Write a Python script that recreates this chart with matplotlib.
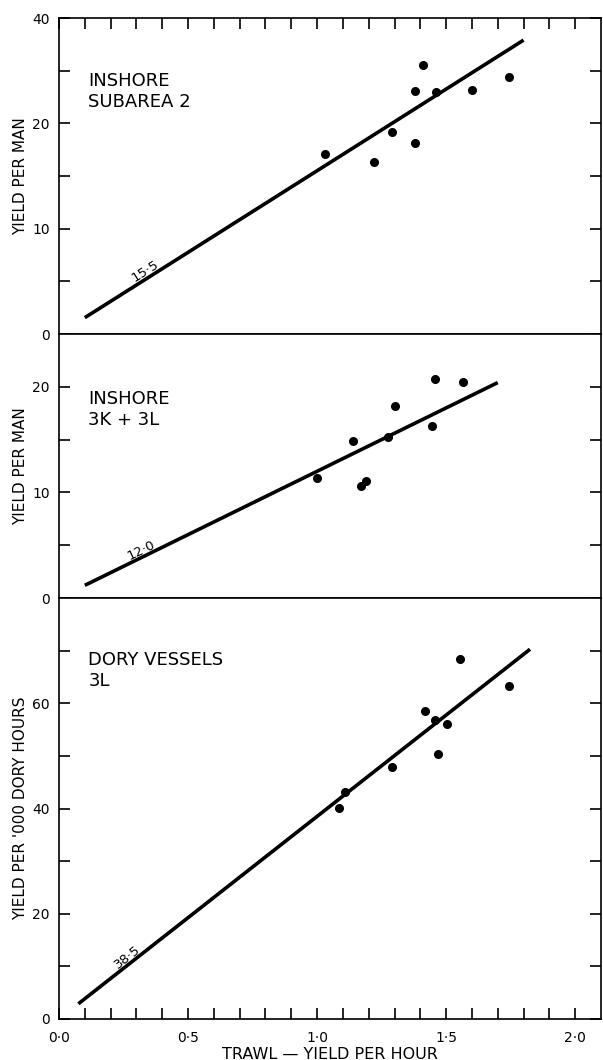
import numpy as np
import matplotlib
matplotlib.use('Agg')
import matplotlib.pyplot as plt
from matplotlib.ticker import FixedLocator

plt.rcParams['font.family'] = ['DejaVu Sans']

# points (trawl yield per hour vs other gear)
x_sub2 = [1.03, 1.22, 1.29, 1.38, 1.38, 1.41, 1.46, 1.60, 1.745]
y_sub2 = [17.1, 16.3, 19.2, 18.1, 23.1, 25.5, 23.0, 23.2, 24.4]

x_3kl = [1.00, 1.14, 1.17, 1.19, 1.275, 1.30, 1.445, 1.455, 1.565]
y_3kl = [11.4, 14.9, 10.6, 11.1, 15.2, 18.2, 16.3, 20.7, 20.5]

x_dory = [1.085, 1.11, 1.29, 1.42, 1.455, 1.47, 1.505, 1.555, 1.745]
y_dory = [40.1, 43.2, 47.9, 58.5, 56.9, 50.4, 56.0, 68.5, 63.2]

# fitted lines through the origin: slope and x range
slopes = [15.5, 12.0, 38.5]
slope_labels = ['15·5', '12·0', '38·5']
line_ranges = [(0.10, 1.80), (0.10, 1.70), (0.075, 1.825)]
label_x = [0.30, 0.28, 0.235]

titles = ['INSHORE\nSUBAREA 2', 'INSHORE\n3K + 3L', 'DORY VESSELS\n3L']
ylabels = ['YIELD PER MAN', 'YIELD PER MAN', "YIELD PER '000 DORY HOURS"]

y_limits = [30, 25, 80]
y_major = [[0, 10, 20, 30], [0, 10, 20], [0, 20, 40, 60]]
y_major_labels = [['0', '10', '20', '40'], ['0', '10', '20'], ['0', '20', '40', '60']]
y_minor = [[5, 15, 25], [5, 15], [10, 30, 50, 70]]

x_major = [0.0, 0.5, 1.0, 1.5, 2.0]
x_major_labels = ['0·0', '0·5', '1·0', '1·5', '2·0']
x_minor = [i / 10 for i in range(1, 21) if i % 5 != 0]

W, H = 603, 1060
fig = plt.figure(figsize=(W / 100, H / 100), dpi=100)

left = 59 / W
width = 542 / W
bounds_px = [(18, 334), (334, 598), (598, 1019)]
title_top = [0.829, 0.788, 0.874]

xs_all = [x_sub2, x_3kl, x_dory]
ys_all = [y_sub2, y_3kl, y_dory]

for k in range(3):
    top_px, bot_px = bounds_px[k]
    ax = fig.add_axes([left, 1 - bot_px / H, width, (bot_px - top_px) / H])
    ax.set_xlim(0, 2.1)
    ax.set_ylim(0, y_limits[k])

    ax.plot(xs_all[k], ys_all[k], 'o', color='black', ms=5.5)
    x0, x1 = line_ranges[k]
    xl = np.array([x0, x1])
    ax.plot(xl, slopes[k] * xl, color='black', lw=2.6, solid_capstyle='butt')

    lx = label_x[k]
    ang = np.degrees(np.arctan(slopes[k]))
    ax.text(lx, slopes[k] * lx, slope_labels[k], fontsize=9.5,
            rotation=ang, transform_rotates_text=True, rotation_mode='anchor',
            ha='left', va='bottom')

    ax.text(0.054, title_top[k], titles[k], transform=ax.transAxes,
            fontsize=13, ha='left', va='top', linespacing=1.2)

    ax.set_ylabel(ylabels[k], fontsize=11)
    ax.yaxis.set_label_coords(-0.057, 0.5)

    ax.yaxis.set_major_locator(FixedLocator(y_major[k]))
    ax.yaxis.set_minor_locator(FixedLocator(y_minor[k]))
    ax.set_yticklabels(y_major_labels[k])
    ax.xaxis.set_major_locator(FixedLocator(x_major))
    ax.xaxis.set_minor_locator(FixedLocator(x_minor))

    ax.tick_params(which='both', direction='in', length=8, width=1.2,
                   left=True, right=True, top=(k == 0), bottom=(k == 2),
                   labelsize=10, pad=6.5)
    if k == 2:
        ax.set_xticklabels(x_major_labels)
        ax.tick_params(axis='x', pad=9)
        ax.set_xlabel('TRAWL — YIELD PER HOUR', fontsize=11.5, labelpad=1)
    else:
        ax.tick_params(axis='x', labelbottom=False)

    for sp in ax.spines.values():
        sp.set_linewidth(1.2)

fig.savefig('out.png', dpi=100)
